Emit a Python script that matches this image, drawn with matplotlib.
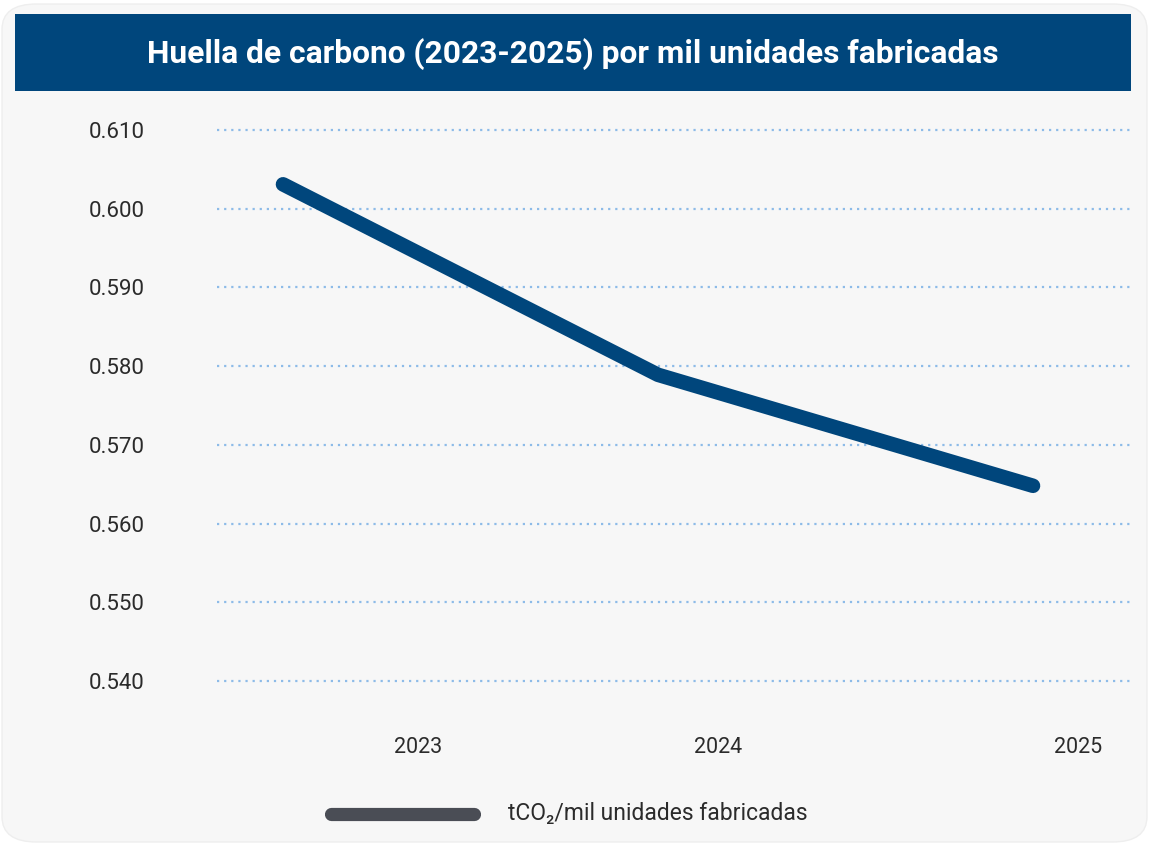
import matplotlib.pyplot as plt
from matplotlib.patches import FancyBboxPatch, Rectangle
from matplotlib.lines import Line2D

# Datos
years = [2023, 2024, 2025]
huella = [0.6031, 0.5789, 0.5648]
y_ticks = [0.540, 0.550, 0.560, 0.570, 0.580, 0.590, 0.600, 0.610]
x_tick_pos = [2023.36, 2024.16, 2025.12]
x_tick_labels = ['2023', '2024', '2025']
titulo = 'Huella de carbono (2023-2025) por mil unidades fabricadas'
serie = 'tCO₂/mil unidades fabricadas'

W, H = 1151, 844
fig = plt.figure(figsize=(W / 100, H / 100), dpi=100, facecolor='white')

# Panel gris de fondo con esquinas redondeadas
panel = FancyBboxPatch((2 / W, 2 / H), (W - 6) / W, (H - 6) / H,
                       boxstyle='round,pad=0,rounding_size=0.03',
                       transform=fig.transFigure, facecolor='#f7f7f7',
                       edgecolor='#eeeeee', linewidth=1, zorder=-2)
fig.patches.append(panel)

# Banda del título
banda = Rectangle((15 / W, 1 - 91 / H), (1131 - 15) / W, (91 - 14) / H,
                  transform=fig.transFigure, facecolor='#00467c',
                  edgecolor='none', zorder=-1)
fig.patches.append(banda)
fig.text((15 + 1131) / 2 / W - 0.0005, 1 - 54 / H, titulo, color='white',
         fontsize=22.9, fontweight='bold', family='Roboto',
         ha='center', va='center')

# Área del gráfico
left, right, top, bottom = 217, 1131, 130, 681
ax = fig.add_axes([left / W, 1 - bottom / H, (right - left) / W, (bottom - top) / H])
ax.set_facecolor('none')
ax.set_zorder(2)

ax.plot(years, huella, color='#00467c', linewidth=10.5,
        solid_capstyle='round', solid_joinstyle='round', clip_on=False, zorder=3)

scale = 375.0
ax.set_xlim(2023 - (283 - left) / scale, 2023 - (283 - left) / scale + (right - left) / scale)
ax.set_ylim(0.540, 0.610)

ax.set_yticks(y_ticks)
ax.set_yticklabels([f'{v:.3f}' for v in y_ticks])
ax.set_xticks(x_tick_pos)
ax.set_xticklabels(x_tick_labels)

for lab in ax.get_yticklabels():
    lab.set_family('Roboto')
    lab.set_fontsize(16)
    lab.set_color('#2b2b2b')
for lab in ax.get_xticklabels():
    lab.set_family('Roboto')
    lab.set_fontsize(15.5)
    lab.set_color('#2b2b2b')

ax.tick_params(axis='y', length=0, pad=52)
ax.tick_params(axis='x', length=0, pad=40)

ax.grid(False)
for v in y_ticks:
    ax.axhline(v, color='#8dbbe8', linewidth=1.6, linestyle=(0, (1, 2.2)),
               zorder=1, clip_on=False)
for s in ax.spines.values():
    s.set_visible(False)

# Leyenda
fig.add_artist(Line2D([331 / W, 474 / W], [1 - 814 / H, 1 - 814 / H],
                      transform=fig.transFigure, color='#4a4d55', linewidth=9.5,
                      solid_capstyle='round'))
fig.text(508 / W, 1 - 813 / H, serie, family=['Roboto', 'DejaVu Sans'],
         fontsize=16.5, color='#2b2b2b', va='center', ha='left')

fig.savefig('out.png', dpi=100, facecolor='white')
